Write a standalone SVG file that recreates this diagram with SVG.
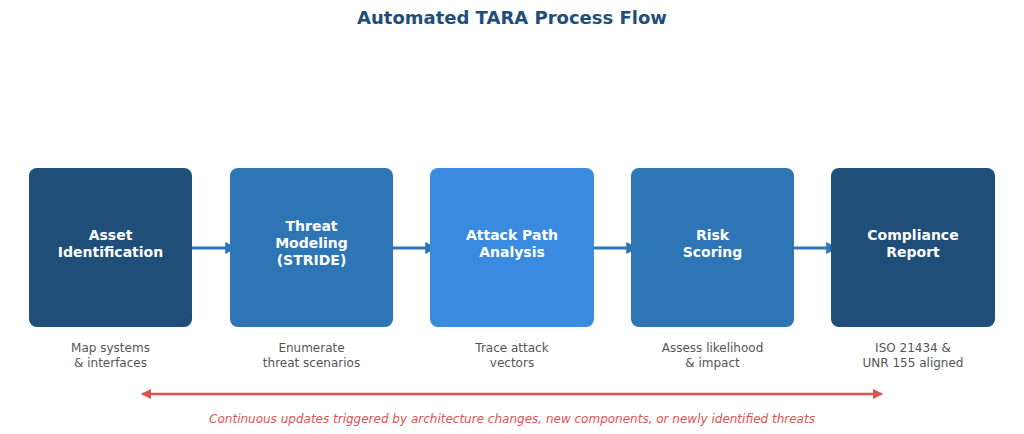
<svg xmlns="http://www.w3.org/2000/svg" width="1024" height="434" viewBox="0 0 1024 434">
<style>
text{font-family:"DejaVu Sans",sans-serif}
.t{font-size:14px;font-weight:bold;fill:#fff;text-anchor:middle}
.d{font-size:12px;fill:#555;text-anchor:middle}
.c{stroke:#2e75b6;stroke-width:3}
</style>
<defs>
<marker id="a" viewBox="0 0 10 10" refX="9" refY="5" markerWidth="4" markerHeight="4" orient="auto"><path d="M0,0L10,5L0,10z" fill="#2e75b6"/></marker>
<marker id="r" viewBox="0 0 10 10" refX="9" refY="5" markerWidth="4" markerHeight="4" orient="auto-start-reverse"><path d="M0,0L10,5L0,10z" fill="#e05252"/></marker>
</defs>
<rect width="1024" height="434" fill="#fff"/>
<text x="512" y="24" text-anchor="middle" style="font-size:18px;font-weight:bold;fill:#1f4e79">Automated TARA Process Flow</text>
<g id="connectors">
<line class="c" x1="185" y1="248" x2="236" y2="248" marker-end="url(#a)"/>
<line class="c" x1="386" y1="248" x2="436" y2="248" marker-end="url(#a)"/>
<line class="c" x1="587" y1="248" x2="637" y2="248" marker-end="url(#a)"/>
<line class="c" x1="787" y1="248" x2="837" y2="248" marker-end="url(#a)"/>
<line x1="142" y1="394" x2="882" y2="394" stroke="#e05252" stroke-width="2.5" marker-start="url(#r)" marker-end="url(#r)"/>
<text x="512" y="423" text-anchor="middle" style="font-size:12px;font-style:italic;fill:#e05252">Continuous updates triggered by architecture changes, new components, or newly identified threats</text>
</g>
<g id="n1"><rect x="29" y="168" width="163" height="159" rx="8" fill="#1f4e79"/><text class="t" x="110.5" y="240">Asset</text><text class="t" x="110.5" y="257">Identification</text><text class="d" x="110.5" y="352">Map systems</text><text class="d" x="110.5" y="367">&amp; interfaces</text></g>
<g id="n2"><rect x="230" y="168" width="163" height="159" rx="8" fill="#2e75b6"/><text class="t" x="311.5" y="231">Threat</text><text class="t" x="311.5" y="248">Modeling</text><text class="t" x="311.5" y="265">(STRIDE)</text><text class="d" x="311.5" y="352">Enumerate</text><text class="d" x="311.5" y="367">threat scenarios</text></g>
<g id="n3"><rect x="430" y="168" width="164" height="159" rx="8" fill="#3a8ae0"/><text class="t" x="512" y="240">Attack Path</text><text class="t" x="512" y="257">Analysis</text><text class="d" x="512" y="352">Trace attack</text><text class="d" x="512" y="367">vectors</text></g>
<g id="n4"><rect x="631" y="168" width="163" height="159" rx="8" fill="#2e75b6"/><text class="t" x="712.5" y="240">Risk</text><text class="t" x="712.5" y="257">Scoring</text><text class="d" x="712.5" y="352">Assess likelihood</text><text class="d" x="712.5" y="367">&amp; impact</text></g>
<g id="n5"><rect x="831" y="168" width="164" height="159" rx="8" fill="#1f4e79"/><text class="t" x="913" y="240">Compliance</text><text class="t" x="913" y="257">Report</text><text class="d" x="913" y="352">ISO 21434 &amp;</text><text class="d" x="913" y="367">UNR 155 aligned</text></g>
</svg>
